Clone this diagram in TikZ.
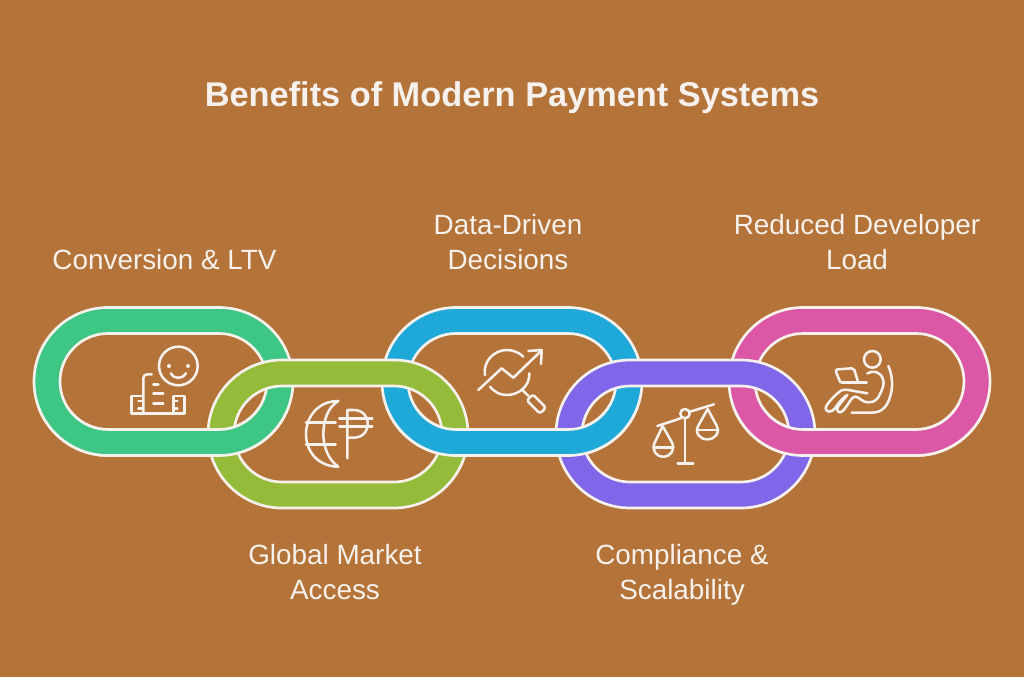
\documentclass[tikz,border=0pt]{standalone}
\usepackage{fontspec}
\setmainfont{Liberation Sans}
\definecolor{bg}{HTML}{B37339}
\definecolor{ink}{HTML}{F6F1EC}
\definecolor{cgreen}{HTML}{3EC685}
\definecolor{colive}{HTML}{94BC3A}
\definecolor{cblue}{HTML}{1FA9D8}
\definecolor{cpurple}{HTML}{8066E8}
\definecolor{cpink}{HTML}{DC57A5}
\newcommand{\linkband}[4]{% left, right, centre y, colour
  \pgfmathsetmacro{\xa}{#1+74}\pgfmathsetmacro{\xb}{#2-74}
  \pgfmathsetmacro{\ya}{#3-74}\pgfmathsetmacro{\yb}{#3+74}
  \pgfmathsetmacro{\yc}{#3-48}\pgfmathsetmacro{\yd}{#3+48}
  \filldraw[bandline,fill=#4]
    (\xa,\ya) -- (\xb,\ya) arc[start angle=-90,end angle=90,radius=74]
    -- (\xa,\yb) arc[start angle=90,end angle=270,radius=74] -- cycle
    (\xa,\yc) -- (\xb,\yc) arc[start angle=-90,end angle=90,radius=48]
    -- (\xa,\yd) arc[start angle=90,end angle=270,radius=48] -- cycle;
}
\begin{document}
\begin{tikzpicture}[x=0.75pt,y=-0.75pt,
  bandline/.style={draw=ink,line width=2pt,even odd rule},
  icon/.style={draw=ink,line width=1.9pt,line cap=round,line join=round},
  titletext/.style={text=ink,font=\bfseries\fontsize{25.75}{30}\selectfont,inner sep=0pt},
  labeltext/.style={text=ink,font=\fontsize{20.9}{26.25}\selectfont,align=center,inner sep=0pt}]
\useasboundingbox (0,0) rectangle (1024,677);
\fill[bg] (0,0) rectangle (1024,677);

\linkband{34}{293}{381.5}{cgreen}
\linkband{382}{642}{381.5}{cblue}
\linkband{729}{990}{381.5}{cpink}
\linkband{208}{468}{434}{colive}
\linkband{556}{815}{434}{cpurple}
\begin{scope}
  \clip (0,407) rectangle (1024,677);
  \linkband{34}{293}{381.5}{cgreen}
  \linkband{382}{642}{381.5}{cblue}
  \linkband{729}{990}{381.5}{cpink}
\end{scope}

\node[titletext] (title) at (512,98) {Benefits of Modern Payment Systems};
\node[labeltext] (conv) at (164.5,260) {Conversion \& LTV};
\node[labeltext] (data) at (508,242.5) {Data-Driven\\Decisions};
\node[labeltext] (dev) at (857,242.5) {Reduced Developer\\Load};
\node[labeltext] (global) at (335,572.5) {Global Market\\Access};
\node[labeltext] (comp) at (682,574.5) {Compliance \&\\Scalability};

% icon 1
\begin{scope}[shift={(120,340)},x=0.25pt,y=-0.25pt]
\draw[icon] (175,78) circle[radius=58];
\fill[ink] (147,78) circle[radius=6] (204,78) circle[radius=6];
\draw[icon] (152,100) .. controls (160,118) and (190,118) .. (198,100);
\draw[icon] (67,168) -- (35,168) -- (35,220) -- (193,220) -- (193,168) -- (160,168) -- (160,215);
\draw[icon] (95,103) -- (82,103) .. controls (74,103) and (70,107) .. (70,115) -- (70,218);
\draw[icon] (55,183) -- (68,183) (55,205) -- (68,205) (160,183) -- (172,183) (160,205) -- (172,205);
\draw[icon] (100,133) -- (115,133) (100,160) -- (130,160) (100,190) -- (130,190);
\end{scope}

% icon 2
\begin{scope}[shift={(295,390)},x=0.25pt,y=-0.25pt]
\draw[icon] (130,33) .. controls (70,33) and (33,80) .. (33,132) .. controls (33,185) and (70,230) .. (130,230)
  .. controls (100,210) and (85,170) .. (85,132) .. controls (85,90) and (100,50) .. (130,33);
\draw[icon] (33,97) -- (122,97) (33,163) -- (122,163);
\draw[icon] (157,205) -- (157,60) -- (175,60) .. controls (203,60) and (218,78) .. (218,100) .. controls (218,125) and (203,143) .. (175,143) -- (157,143);
\draw[icon] (133,85) -- (232,85) (133,110) -- (232,110);
\end{scope}

% icon 3
\begin{scope}[shift={(470,340)},x=0.25pt,y=-0.25pt]
\draw[icon] (45,105) .. controls (38,65) and (72,30) .. (110,30) .. controls (130,30) and (148,38) .. (160,50);
\draw[icon] (60,140) .. controls (75,158) and (92,165) .. (110,165) .. controls (150,165) and (180,135) .. (178,100);
\draw[icon] (25,150) -- (95,85) -- (130,113) -- (213,33);
\draw[icon] (175,33) -- (215,30) -- (213,72);
\draw[icon] (155,148) -- (174,167);
\draw[icon] (193,168) -- (223,198) .. controls (230,205) and (212,223) .. (205,216) -- (175,186) .. controls (168,179) and (186,161) .. (193,168) -- cycle;
\end{scope}

% icon 4
\begin{scope}[shift={(640,390)},x=0.25pt,y=-0.25pt]
\draw[icon] (52,108) -- (122,85) (150,65) -- (222,43);
\draw[icon] (135,71) circle[radius=14];
\draw[icon] (135,85) -- (135,220) (113,220) -- (160,220);
\draw[icon] (68,108) -- (44,158) .. controls (34,180) and (48,200) .. (70,200) .. controls (92,200) and (106,180) .. (96,158) -- cycle;
\draw[icon] (42,172) -- (100,172);
\draw[icon] (203,57) -- (176,105) .. controls (162,130) and (180,148) .. (202,148) .. controls (224,148) and (242,130) .. (229,105) -- cycle;
\draw[icon] (170,120) -- (235,120);
\end{scope}

% icon 5
\begin{scope}[shift={(815,340)},x=0.25pt,y=-0.25pt]
\draw[icon] (172,58) circle[radius=25];
\draw[icon] (68,88) -- (110,85) .. controls (114,85) and (116,87) .. (118,90) -- (130,128) -- (82,128) .. controls (76,128) and (74,124) .. (73,120) -- (63,96) .. controls (62,91) and (64,88) .. (68,88);
\draw[icon] (82,128) -- (155,128);
\draw[icon] (157,100) .. controls (175,90) and (195,95) .. (203,115) .. controls (210,130) and (203,145) .. (196,160) .. controls (188,178) and (180,187) .. (160,187) .. controls (140,187) and (135,172) .. (122,170) .. controls (112,168) and (105,185) .. (90,205) .. controls (82,218) and (68,222) .. (66,208) .. controls (66,200) and (85,180) .. (97,165) .. controls (85,170) and (70,190) .. (60,205) .. controls (50,218) and (33,218) .. (32,205) .. controls (32,195) and (55,170) .. (70,158) .. controls (78,150) and (85,148) .. (100,150) -- (157,160);
\draw[icon] (110,218) -- (170,218) .. controls (205,218) and (222,195) .. (230,150) .. controls (233,125) and (230,100) .. (220,78);
\end{scope}
\end{tikzpicture}
\end{document}
